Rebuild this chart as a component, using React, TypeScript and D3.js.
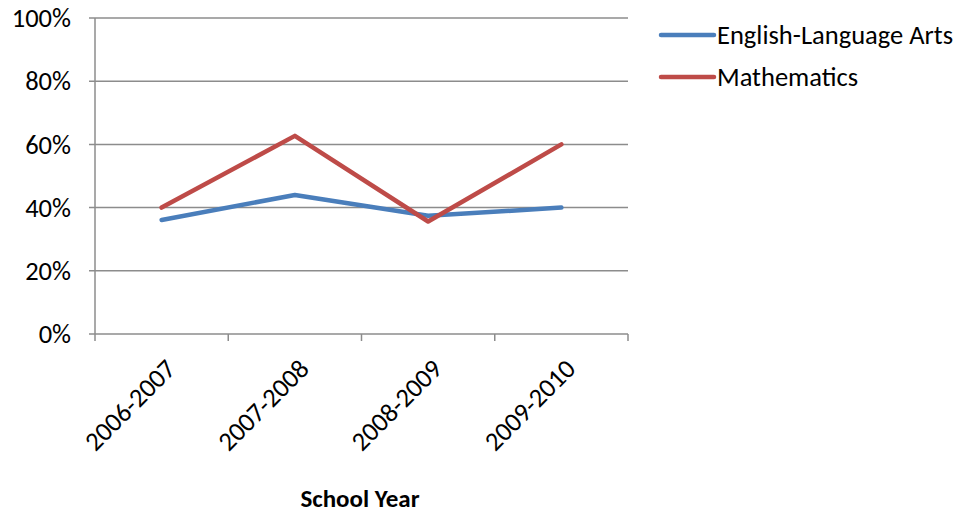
import React from "react";
import * as d3 from "d3";

const categories = ["2006-2007", "2007-2008", "2008-2009", "2009-2010"];
const elaValues = [0.361, 0.44, 0.374, 0.40];
const mathValues = [0.40, 0.627, 0.356, 0.60];
const yTicks = [0, 0.2, 0.4, 0.6, 0.8, 1.0];
const seriesNames = ["English-Language Arts", "Mathematics"];
const seriesColors = ["#4a7ebb", "#be4b48"];

const FONT = "Carlito, Calibri, Lato, 'Open Sans', sans-serif";
const FS = 26.5;

export default function App() {
  const W = 958, H = 515;
  const left = 95, right = 628, top = 18, bottom = 334;
  const x = d3.scaleBand<string>().domain(categories).range([left, right]);
  const y = d3.scaleLinear().domain([0, 1]).range([bottom, top]);
  const line = d3
    .line<number>()
    .x((_, i) => (x(categories[i]) as number) + x.bandwidth() / 2)
    .y((d) => y(d));
  const series = [elaValues, mathValues];
  const tickPositions = [...categories.map((c) => x(c) as number), right];

  return (
    <svg width={W} height={H} style={{ position: "absolute", left: 0, top: 0 }}>
      <rect width={W} height={H} fill="#fff" />
      {yTicks.map((t) => (
        <g key={t}>
          <line x1={left - 6} x2={right} y1={y(t)} y2={y(t)} stroke="#8c8c8c" strokeWidth={1.5} />
          <text x={left - 24} y={y(t)} dy="0.35em" textAnchor="end" fontFamily={FONT} fontSize={FS} fill="#000">
            {d3.format(".0%")(t)}
          </text>
        </g>
      ))}
      <line x1={left} x2={left} y1={top} y2={bottom} stroke="#8c8c8c" strokeWidth={1.5} />
      {tickPositions.map((p, i) => (
        <line key={i} x1={p} x2={p} y1={bottom} y2={bottom + 7} stroke="#8c8c8c" strokeWidth={1.5} />
      ))}
      {categories.map((c) => {
        const cx = (x(c) as number) + x.bandwidth() / 2 + 9;
        const cy = bottom + 30;
        return (
          <text
            key={c}
            transform={`translate(${cx},${cy}) rotate(-45)`}
            textAnchor="end"
            dy="0.35em"
            fontFamily={FONT}
            fontSize={FS}
            fill="#000"
          >
            {c}
          </text>
        );
      })}
      <text x={360} y={498} dy="0.35em" textAnchor="middle" fontFamily={FONT} fontSize={25} fontWeight="bold" fill="#000">
        School Year
      </text>
      {series.map((s, i) => (
        <path key={i} d={line(s) as string} fill="none" stroke={seriesColors[i]} strokeWidth={4.5} strokeLinejoin="round" strokeLinecap="round" />
      ))}
      {seriesNames.map((n, i) => {
        const ly = 35 + i * 42;
        return (
          <g key={n}>
            <line x1={661} x2={714} y1={ly} y2={ly} stroke={seriesColors[i]} strokeWidth={4.5} strokeLinecap="round" />
            <text x={717} y={ly} dy="0.35em" fontFamily={FONT} fontSize={FS} fill="#000">
              {n}
            </text>
          </g>
        );
      })}
    </svg>
  );
}
